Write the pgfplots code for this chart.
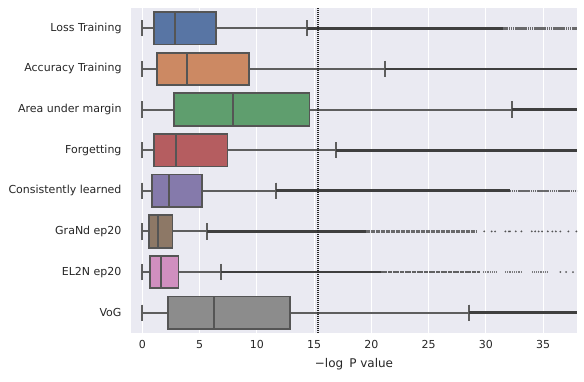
\documentclass[border=0pt]{standalone}
\usepackage{fontspec}
\setmainfont{DejaVu Sans}
\usepackage{pgfplots}
\pgfplotsset{compat=1.18}
\usepgfplotslibrary{statistics}
\definecolor{bg}{HTML}{EAEAF2}
\definecolor{txt}{HTML}{262626}
\definecolor{edge}{HTML}{555555}
\definecolor{whisk}{HTML}{5E5E5E}
\definecolor{outl}{HTML}{3F3F3F}
\definecolor{c1}{HTML}{5875A4}
\definecolor{c2}{HTML}{CC8963}
\definecolor{c3}{HTML}{5F9E6E}
\definecolor{c4}{HTML}{B55D60}
\definecolor{c5}{HTML}{857AAB}
\definecolor{c6}{HTML}{8D7866}
\definecolor{c7}{HTML}{D08FBF}
\definecolor{c8}{HTML}{8C8C8C}
\begin{document}
\begin{tikzpicture}
\begin{axis}[
  scale only axis, width=446pt, height=325pt,
  xmin=-0.99, xmax=37.95, ymin=-0.5, ymax=7.5, y dir=reverse,
  axis background/.style={fill=bg},
  axis line style={draw=none},
  tick style={draw=none},
  xmajorgrids, grid style={white, line width=1pt},
  xtick={0,5,...,35}, ytick={0,...,7},
  yticklabels={Loss Training, Accuracy Training, Area under margin, Forgetting, Consistently learned, GraNd ep20, EL2N ep20, VoG},
  /pgf/number format/assume math mode=true,
  ticklabel style={font=\fontsize{11}{13}\selectfont, text=txt},
  xticklabel style={yshift=-4pt},
  yticklabel style={xshift=-6pt},
  xlabel={−log\hspace{0.5em}P value},
  xlabel style={font=\fontsize{12}{14}\selectfont, text=txt, yshift=-3pt},
  boxplot/draw direction=x,
  boxplot/box extend=0.8, boxplot/whisker extend=0.4,
  boxplot/every whisker/.style={draw=whisk, line width=2pt},
  boxplot/every median/.style={draw=edge, line width=1.8pt},
  boxplot/every box/.style={draw=edge, line width=1.8pt},
]
% Loss Training
\addplot[boxplot prepared={draw position=0, lower whisker=0, lower quartile=1.0, median=2.88, upper quartile=6.4, upper whisker=14.38}, draw=edge, fill=c1, line width=1.8pt] coordinates {};
\addplot[outl, line width=2.8pt] coordinates {(14.38,0) (31.5,0)};
\addplot[outl, line width=2.4pt, opacity=0.75, dash pattern=on 1.5pt off 0.4pt] coordinates {(31.5,0) (37.95,0)};
% Accuracy Training
\addplot[boxplot prepared={draw position=1, lower whisker=0, lower quartile=1.29, median=3.92, upper quartile=9.3, upper whisker=21.2}, draw=edge, fill=c2, line width=1.8pt] coordinates {};
\addplot[outl, line width=2.8pt] coordinates {(21.2,1) (37.95,1)};
% Area under margin
\addplot[boxplot prepared={draw position=2, lower whisker=0, lower quartile=2.75, median=7.9, upper quartile=14.6, upper whisker=32.29}, draw=edge, fill=c3, line width=1.8pt] coordinates {};
\addplot[outl, line width=2.8pt] coordinates {(32.29,2) (37.95,2)};
% Forgetting
\addplot[boxplot prepared={draw position=3, lower whisker=0, lower quartile=1.0, median=2.93, upper quartile=7.43, upper whisker=16.92}, draw=edge, fill=c4, line width=1.8pt] coordinates {};
\addplot[outl, line width=2.8pt] coordinates {(16.92,3) (37.95,3)};
% Consistently learned
\addplot[boxplot prepared={draw position=4, lower whisker=0, lower quartile=0.82, median=2.34, upper quartile=5.2, upper whisker=11.7}, draw=edge, fill=c5, line width=1.8pt] coordinates {};
\addplot[outl, line width=2.8pt] coordinates {(11.7,4) (32.1,4)};
\addplot[outl, line width=2.4pt, opacity=0.75, dash pattern=on 1.5pt off 0.4pt] coordinates {(32.1,4) (37.95,4)};
% GraNd ep20
\addplot[boxplot prepared={draw position=5, lower whisker=0, lower quartile=0.56, median=1.35, upper quartile=2.63, upper whisker=5.67}, draw=edge, fill=c6, line width=1.8pt] coordinates {};
\addplot[outl, line width=2.8pt] coordinates {(5.67,5) (19.5,5)};
\addplot[outl, line width=2.2pt, opacity=0.75, dash pattern=on 2pt off 0.5pt] coordinates {(19.5,5) (29.2,5)};
\addplot[outl, only marks, mark=*, mark size=0.75pt, opacity=0.7] coordinates {(29.85,5) (30.5,5) (30.8,5) (31.7,5) (32.0,5) (32.1,5) (32.6,5) (33.1,5) (34.0,5) (34.3,5) (34.6,5) (34.9,5) (35.4,5) (35.8,5) (36.1,5) (36.5,5) (37.2,5) (37.9,5)};
% EL2N ep20
\addplot[boxplot prepared={draw position=6, lower whisker=0, lower quartile=0.65, median=1.64, upper quartile=3.16, upper whisker=6.9}, draw=edge, fill=c7, line width=1.8pt] coordinates {};
\addplot[outl, line width=2.8pt] coordinates {(6.9,6) (20.8,6)};
\addplot[outl, line width=2.2pt, opacity=0.8, dash pattern=on 2pt off 0.4pt] coordinates {(20.8,6) (29.5,6)};
\addplot[outl, line width=1.8pt, opacity=0.65, dash pattern=on 1pt off 0.8pt] coordinates {(29.75,6) (30.96,6)};
\addplot[outl, line width=1.8pt, opacity=0.65, dash pattern=on 1pt off 0.8pt] coordinates {(31.67,6) (33.15,6)};
\addplot[outl, line width=1.8pt, opacity=0.65, dash pattern=on 1pt off 0.8pt] coordinates {(34.06,6) (35.46,6)};
\addplot[outl, only marks, mark=*, mark size=0.75pt, opacity=0.7] coordinates {(36.5,6) (37.0,6) (37.6,6)};
% VoG
\addplot[boxplot prepared={draw position=7, lower whisker=0, lower quartile=2.23, median=6.26, upper quartile=12.87, upper whisker=28.53}, draw=edge, fill=c8, line width=1.8pt] coordinates {};
\addplot[outl, line width=2.8pt] coordinates {(28.53,7) (37.95,7)};
% threshold
\addplot[black!85, line width=1.6pt, dash pattern=on 1pt off 1pt] coordinates {(15.32,-0.5) (15.32,7.5)};
\end{axis}
\pgfresetboundingbox
\path[use as bounding box] ([shift={(-131pt,-48pt)}]current axis.south west) rectangle ([shift={(7pt,8pt)}]current axis.north east);
\end{tikzpicture}
\end{document}
